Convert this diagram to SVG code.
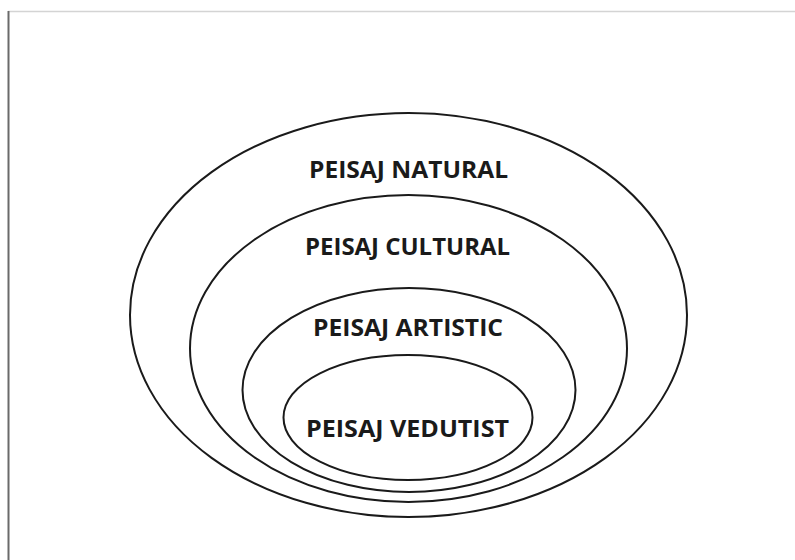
<svg xmlns="http://www.w3.org/2000/svg" width="795" height="560" viewBox="0 0 795 560">
<style>
.ring{fill:none;stroke:#1a1a1a;stroke-width:2}
.lbl{font-family:"Open Sans","Liberation Sans",sans-serif;font-weight:bold;font-size:24px;fill:#1a1a1a;text-anchor:middle}
</style>
<rect width="795" height="560" fill="#fff"/>
<line x1="8" y1="11.5" x2="795" y2="11.5" stroke="#d4d4d4" stroke-width="1.5"/>
<line x1="8.5" y1="11" x2="8.5" y2="560" stroke="#6a6a6a" stroke-width="2"/>
<g id="natural">
<ellipse class="ring" cx="408.5" cy="315" rx="278.5" ry="202"/>
<text class="lbl" x="408.5" y="178" textLength="199" lengthAdjust="spacingAndGlyphs">PEISAJ NATURAL</text>
</g>
<g id="cultural">
<ellipse class="ring" cx="408.5" cy="348.5" rx="218.5" ry="153.5"/>
<text class="lbl" x="407.5" y="255" textLength="205" lengthAdjust="spacingAndGlyphs">PEISAJ CULTURAL</text>
</g>
<g id="artistic">
<ellipse class="ring" cx="409" cy="390" rx="166.5" ry="102"/>
<text class="lbl" x="408" y="336" textLength="190" lengthAdjust="spacingAndGlyphs">PEISAJ ARTISTIC</text>
</g>
<g id="vedutist">
<ellipse class="ring" cx="408" cy="417.5" rx="124.5" ry="62.5"/>
<text class="lbl" x="407.5" y="437" textLength="203" lengthAdjust="spacingAndGlyphs">PEISAJ VEDUTIST</text>
</g>
<g id="connectors"/>
</svg>
